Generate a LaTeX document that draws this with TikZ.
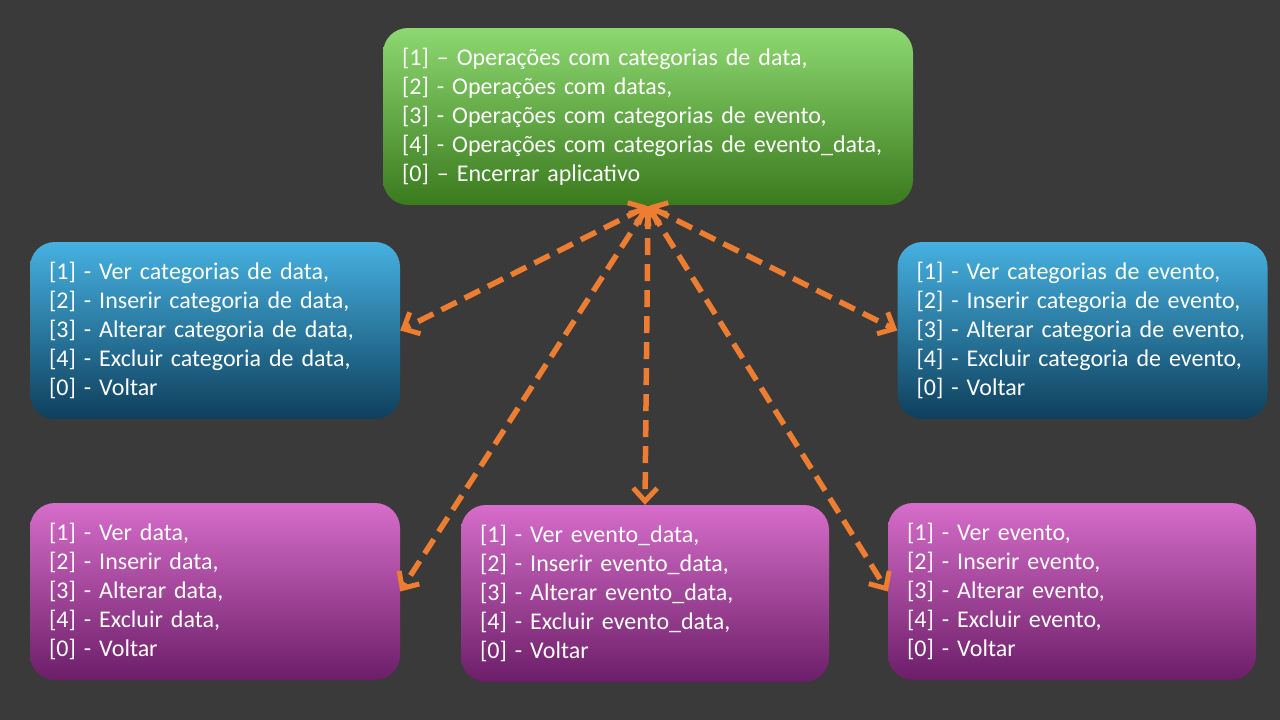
\documentclass[tikz,border=0pt]{standalone}
\usepackage{fontspec}
\setmainfont{Carlito}
\usetikzlibrary{arrows.meta}
\definecolor{bg}{HTML}{3A3A3A}
\definecolor{arr}{HTML}{ED7D31}
\definecolor{gtop}{HTML}{8DD870}
\definecolor{gbot}{HTML}{3A7A1E}
\definecolor{btop}{HTML}{46B1E1}
\definecolor{bmid}{HTML}{1F6F98}
\definecolor{bbot}{HTML}{0E3F5C}
\definecolor{mtop}{HTML}{D66DCA}
\definecolor{mmid}{HTML}{A52C9B}
\definecolor{mbot}{HTML}{6C1E68}
\tikzset{
  menubox/.style={rounded corners=25pt, minimum height=177pt, inner xsep=19pt, inner ysep=0pt,
    align=left, text=white, font=\fontsize{24}{29}\selectfont},
  greenbox/.style={menubox, top color=gtop, bottom color=gbot, minimum width=530pt, text width=492pt},
  bluebox/.style={menubox, top color=btop, middle color=bmid, bottom color=bbot, minimum width=370pt, text width=332pt},
  magbox/.style={menubox, top color=mtop, middle color=mmid, bottom color=mbot, minimum width=368pt, text width=330pt},
  link/.style={draw=arr, line width=5.5pt, dash pattern=on 17pt off 9pt,
    {Straight Barb[length=13pt,width=24pt,line width=5pt]}-{Straight Barb[length=13pt,width=24pt,line width=5pt]}}
}
\begin{document}
\begin{tikzpicture}[x=1pt,y=-1pt]
\fill[bg] (0,0) rectangle (1280,720);
\useasboundingbox (0,0) rectangle (1280,720);
\node[greenbox] (top) at (648,116.5) {[1] – Operações com categorias de data,\\{}[2] - Operações com datas,\\{}[3] - Operações com categorias de evento,\\{}[4] - Operações com categorias de evento\_data,\\{}[0] – Encerrar aplicativo};
\node[bluebox] (bl) at (215,330.5) {[1] - Ver categorias de data,\\{}[2] - Inserir categoria de data,\\{}[3] - Alterar categoria de data,\\{}[4] - Excluir categoria de data,\\{}[0] - Voltar};
\node[bluebox] (br) at (1082.5,330.5) {[1] - Ver categorias de evento,\\{}[2] - Inserir categoria de evento,\\{}[3] - Alterar categoria de evento,\\{}[4] - Excluir categoria de evento,\\{}[0] - Voltar};
\node[magbox, minimum width=370pt, text width=332pt] (mbl) at (215,591.5) {[1] - Ver data,\\{}[2] - Inserir data,\\{}[3] - Alterar data,\\{}[4] - Excluir data,\\{}[0] - Voltar};
\node[magbox] (mm) at (645,593.5) {[1] - Ver evento\_data,\\{}[2] - Inserir evento\_data,\\{}[3] - Alterar evento\_data,\\{}[4] - Excluir evento\_data,\\{}[0] - Voltar};
\node[magbox] (mbr) at (1072,591.5) {[1] - Ver evento,\\{}[2] - Inserir evento,\\{}[3] - Alterar evento,\\{}[4] - Excluir evento,\\{}[0] - Voltar};
\coordinate (hub) at (648,206);
\draw[link] (hub) -- (bl.east);
\draw[link] (hub) -- (br.west);
\draw[link] (hub) -- (mbl.east);
\draw[link] (hub) -- (mm.north);
\draw[link] (hub) -- (mbr.west);
\end{tikzpicture}
\end{document}
